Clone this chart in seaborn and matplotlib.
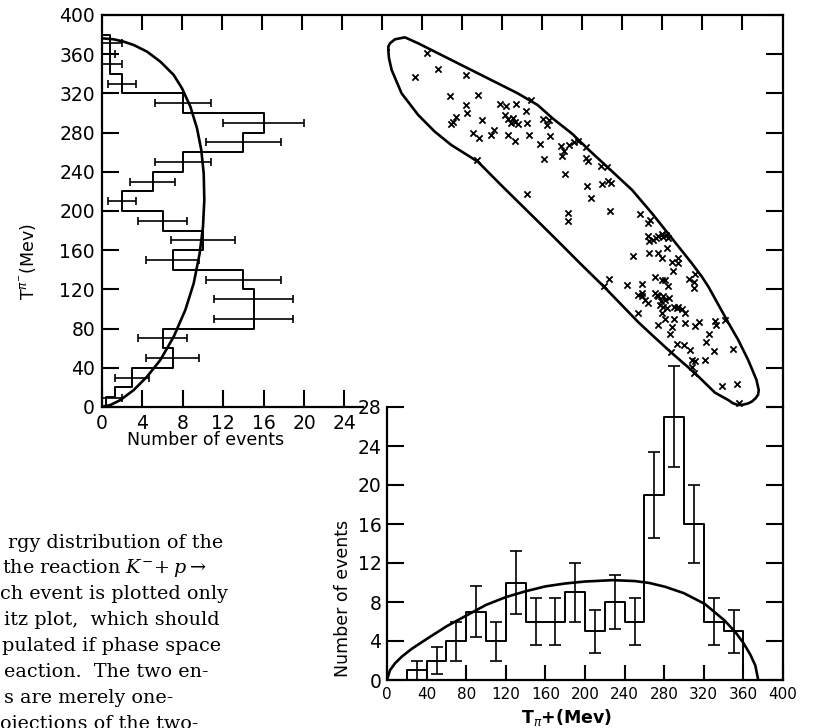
import numpy as np
import matplotlib
matplotlib.use("Agg")
import matplotlib.pyplot as plt
import seaborn as sns

# ---------------- data ----------------
# Left projection: T(pi-) histogram (MeV bins, counts)
left_edges = [0, 10, 20, 40, 60, 80, 100, 120, 140, 160, 180, 200, 220, 240, 260,
              280, 300, 320, 340, 380, 390]
left_counts = [0.4, 1.3, 3, 7, 6, 15, 15, 14, 7, 10, 6, 2, 5, 8, 14, 16, 8, 2, 0.8, 0]
left_err_mev = [9, 30, 50, 70, 90, 110, 130, 150, 170, 190, 210, 230, 250, 270, 290,
                310, 330, 350, 360, 371]
left_err_val = [1, 3, 7, 6, 15, 15, 14, 7, 10, 6, 2, 5, 8, 14, 16, 8, 2, 1, 0.65, 1]
left_err_size = [1, 1.7, 2.6, 2.4, 3.9, 3.9, 3.7, 2.6, 3.2, 2.4, 1.4, 2.2, 2.8, 3.7,
                 4, 2.8, 1.4, 1, 0.65, 1]
left_ps_events = [0, 0.83, 1.82, 3.14, 4.46, 5.78, 7.10, 8.25, 9.08, 9.67, 10.0, 10.13,
                  10.07, 9.83, 9.41, 8.75, 7.92, 7.10, 5.78, 4.46, 3.14, 2.15, 1.16, 0]
left_ps_mev = [0.3, 2.0, 7.1, 17.3, 31.0, 48.0, 71.8, 99.0, 126.2, 156.8, 184.0, 211.2,
               238.4, 262.2, 284.3, 306.5, 325.2, 338.8, 352.4, 362.6, 369.4, 372.8,
               375.2, 376.2]
left_xticks = [0, 4, 8, 12, 16, 20, 24]
left_yticks = [0, 40, 80, 120, 160, 200, 240, 280, 320, 360, 400]

# Bottom projection: T(pi+) histogram
bot_edges = [0, 20, 40, 60, 80, 100, 120, 140, 160, 180, 200, 220, 240, 260, 280, 300,
             320, 340, 360, 380]
bot_counts = [0, 1, 2, 4, 7, 4, 10, 6, 6, 9, 5, 8, 6, 19, 27, 16, 6, 5, 0]
bot_err_mev = [30, 50, 70, 90, 110, 130, 150, 170, 190, 210, 230, 250, 270, 290, 310,
               330, 350]
bot_err_val = [1, 2, 4, 7, 4, 10, 6, 6, 9, 5, 8, 6, 19, 27, 16, 6, 5]
bot_err_size = [1, 1.4, 2, 2.6, 2, 3.2, 2.4, 2.4, 3, 2.2, 2.8, 2.4, 4.4, 5.2, 4, 2.4, 2.2]
bot_ps_mev = [0, 3, 8, 15, 25, 40, 60, 80, 100, 120, 140, 160, 180, 200, 228, 250, 265,
              281, 300, 321, 341, 352, 360, 367, 372, 375]
bot_ps_events = [0, 1.0, 1.7, 2.4, 3.2, 4.2, 5.5, 6.6, 7.7, 8.5, 9.1, 9.6, 9.9, 10.1,
                 10.24, 10.15, 9.95, 9.56, 8.9, 7.8, 6.1, 4.9, 3.8, 2.6, 1.5, 0]
bot_xticks = [0, 40, 80, 120, 160, 200, 240, 280, 320, 360, 400]
bot_yticks = [0, 4, 8, 12, 16, 20, 24, 28]

# Dalitz plot boundary (T pi+, T pi-)
ell_tp = [1.3, 1.4, 3.0, 8.0, 18.1, 31.5, 65.0, 98.5, 132.0, 152.1, 167.2, 187.3, 204.0,
          224.1, 247.6, 267.7, 287.8, 307.9, 318.0, 324.6, 333.0, 341.4, 348.0, 354.8,
          359.8, 364.8, 369.8, 373.2, 375.5, 374.8, 372.2, 368.5, 364.8, 359.8, 354.8,
          349.5, 344.7, 331.3, 311.2, 286.1, 267.7, 254.3, 219.1, 194.0, 173.9, 153.8,
          115.2, 91.8, 65.0, 48.2, 31.5, 14.7, 4.7, 2.0, 1.3]
ell_tm = [364.3, 368.0, 371.1, 375.2, 377.2, 371.1, 354.1, 337.1, 320.1, 308.2, 294.6,
          278.6, 262.2, 243.5, 221.4, 197.6, 172.1, 146.6, 133.0, 122.8, 107.5, 92.2,
          80.3, 68.4, 58.2, 48.0, 36.0, 27.6, 17.3, 12.5, 8.8, 5.5, 3.7, 2.4, 2.0, 3.8,
          7.1, 14.6, 34.4, 56.5, 73.5, 86.1, 122.8, 147.6, 168.0, 188.1, 226.5, 250.3,
          267.3, 281.0, 298.0, 320.1, 343.9, 356.0, 364.3]

# Dalitz plot events
dal_tp = [40, 28, 52, 80, 64, 92, 80, 81, 70, 67,
          65, 96, 87, 93, 105, 108, 114, 120, 130, 145,
          140, 119, 122, 127, 129, 132, 125, 141, 122, 129,
          143, 158, 164, 162, 165, 155, 159, 91, 176, 179,
          177, 184, 189, 193, 201, 201, 203, 216, 222, 180,
          202, 217, 223, 226, 206, 141, 183, 183, 225, 256,
          264, 266, 278, 282, 284, 264, 269, 265, 272, 283,
          248, 265, 274, 278, 288, 294, 294, 289, 271, 278,
          281, 284, 305, 311, 310, 310, 224, 242, 258, 219,
          254, 258, 261, 264, 271, 274, 277, 281, 285, 279,
          283, 290, 294, 298, 301, 254, 278, 281, 290, 301,
          274, 288, 286, 311, 315, 331, 332, 325, 322, 293,
          300, 306, 287, 330, 349, 308, 311, 321, 308, 310,
          338, 354, 356, 341,
          274, 279, 273, 279, 276, 293, 258]
dal_tm = [361, 337, 345, 339, 317, 318, 308, 300, 296, 291,
          289, 293, 280, 274, 278, 283, 309, 307, 309, 313,
          302, 298, 294, 295, 291, 289, 290, 290, 278, 271,
          278, 294, 293, 288, 277, 268, 253, 252, 266, 261,
          256, 267, 270, 271, 265, 254, 251, 246, 245, 238,
          226, 228, 231, 229, 213, 217, 198, 190, 200, 197,
          188, 191, 177, 176, 172, 174, 170, 169, 172, 162,
          154, 157, 157, 152, 148, 152, 147, 139, 133, 130,
          130, 123, 131, 136, 128, 121, 131, 125, 126, 123,
          114, 113, 109, 106, 116, 113, 108, 109, 111, 102,
          101, 102, 102, 100, 96, 96, 96, 90, 90, 86,
          84, 82, 75, 83, 87, 88, 84, 74, 66, 64,
          63, 58, 56, 57, 59, 48, 47, 48, 41, 35,
          21, 23, 4, 89,
          175, 173, 114, 113, 104, 101, 116]

caption_lines = ["rgy distribution of the",
                 r"the reaction $K^{-}\!+p\rightarrow$",
                 "ch event is plotted only",
                 "itz plot,  which should",
                 "pulated if phase space",
                 "eaction.  The two en-",
                 "s are merely one-",
                 "ojections of the two-"]

# ---------------- style ----------------
sns.set_theme(style="white")
plt.rcParams["font.family"] = ["DejaVu Sans"]
plt.rcParams["axes.edgecolor"] = "black"
plt.rcParams["xtick.color"] = "black"
plt.rcParams["ytick.color"] = "black"

W, H = 825, 728
fig = plt.figure(figsize=(W / 100, H / 100), dpi=100)
fig.patch.set_facecolor("white")


def rect(x0, y0, x1, y1):
    return [x0 / W, 1 - y1 / H, (x1 - x0) / W, (y1 - y0) / H]


ax = fig.add_axes(rect(102, 15, 783, 407))
ax_in = fig.add_axes(rect(387, 407, 783, 680))
ax_d = fig.add_axes(rect(387, 15, 783, 407))
ax_top = ax.twiny()

LW_SP = 1.6
BLACK = "black"

# ---------- left projection (main frame) ----------
left_centers = [(a + b) / 2 for a, b in zip(left_edges[:-1], left_edges[1:])]
sns.histplot(y=left_centers, weights=left_counts, bins=left_edges, element="step",
             fill=False, color=BLACK, linewidth=1.4, ax=ax)
ax.errorbar(left_err_val, left_err_mev, xerr=left_err_size, fmt="none",
            ecolor=BLACK, elinewidth=1.2, capsize=2.8, capthick=1.2)
sns.lineplot(x=left_ps_events, y=left_ps_mev, sort=False, estimator=None,
             color=BLACK, linewidth=1.9, ax=ax)

ax.set_xlim(0, 681 / 10.1)
ax.set_ylim(0, 400)
ax.set_xlabel("")
ax.set_ylabel("")
ax.set_facecolor("none")
for s in ax.spines.values():
    s.set_visible(True)
    s.set_linewidth(LW_SP)
    s.set_color(BLACK)
ax.spines["bottom"].set_bounds(0, 25.8)
ax.set_xticks(left_xticks)
ax.set_yticks(left_yticks)
ax.tick_params(axis="both", which="major", direction="in", length=12, width=1.5,
               labelsize=13.5, pad=5, labelcolor=BLACK)
ax.tick_params(axis="x", bottom=True, top=False, labelbottom=True)
ax.tick_params(axis="y", left=True, right=True, labelleft=True, labelright=False)

# top ticks
ax_top.set_xlim(0, 681 / 40)
ax_top.set_xticks(np.arange(1, 17))
ax_top.tick_params(axis="x", top=True, bottom=False, labeltop=False,
                   labelbottom=False, direction="in", length=11, width=1.5)
for s in ax_top.spines.values():
    s.set_visible(False)
ax_top.patch.set_visible(False)

# ---------- bottom projection (inset) ----------
bot_centers = [(a + b) / 2 for a, b in zip(bot_edges[:-1], bot_edges[1:])]
sns.histplot(x=bot_centers, weights=bot_counts, bins=bot_edges, element="step",
             fill=False, color=BLACK, linewidth=1.4, ax=ax_in)
eb2 = ax_in.errorbar(bot_err_mev, bot_err_val, yerr=bot_err_size, fmt="none",
                     ecolor=BLACK, elinewidth=1.2, capsize=4.3, capthick=1.2)
for part in list(eb2.lines[1]) + list(eb2.lines[2]):
    part.set_clip_on(False)
sns.lineplot(x=bot_ps_mev, y=bot_ps_events, sort=False, estimator=None,
             color=BLACK, linewidth=1.9, ax=ax_in)

ax_in.set_xlim(0, 400)
ax_in.set_ylim(0, 28)
ax_in.set_xlabel("")
ax_in.set_ylabel("")
ax_in.patch.set_visible(False)
for name, s in ax_in.spines.items():
    s.set_linewidth(LW_SP)
    s.set_color(BLACK)
    s.set_visible(name != "top")
ax_in.set_xticks(bot_xticks)
ax_in.set_yticks(bot_yticks)
ax_in.tick_params(axis="both", direction="in", width=1.5, labelcolor=BLACK)
ax_in.tick_params(axis="x", bottom=True, top=False, length=11, labelsize=11, pad=5)
ax_in.tick_params(axis="y", left=True, right=True, labelright=False, length=12,
                  labelsize=13.5, pad=4)

# ---------- Dalitz plot ----------
sns.lineplot(x=ell_tp, y=ell_tm, sort=False, estimator=None, color=BLACK,
             linewidth=1.9, ax=ax_d)
sns.scatterplot(x=dal_tp, y=dal_tm, marker="x", s=20, color=BLACK, linewidth=1.3,
                ax=ax_d)
ax_d.set_xlim(0, 400)
ax_d.set_ylim(0, 400)
ax_d.axis("off")

# ---------- labels ----------
fig.text(28 / W, 1 - 262 / H, r"T$^{\pi^{-}}$(Mev)", rotation=90, ha="center",
         va="center", fontsize=12.5, color=BLACK)
fig.text(206 / W, 1 - 440 / H, "Number of events", ha="center", va="center",
         fontsize=12.5, color=BLACK)
fig.text(343 / W, 1 - 598 / H, "Number of events", rotation=90, ha="center",
         va="center", fontsize=12.5, color=BLACK)
fig.text(567 / W, 1 - 718 / H, r"T$_{\pi}$+(Mev)", ha="center", va="center",
         fontsize=12.5, fontweight="bold", color=BLACK)

cap_x = [8, 2, 0, 4, 2, 4, 4, 0]
cap_y = [543, 568, 594, 620, 646, 672, 698, 724]
for txt, x, y in zip(caption_lines, cap_x, cap_y):
    fig.text(x / W, 1 - y / H, txt, ha="left", va="center", fontsize=13.8,
             family="DejaVu Serif", math_fontfamily="dejavuserif", color=BLACK)

fig.savefig("out.png", dpi=100)
